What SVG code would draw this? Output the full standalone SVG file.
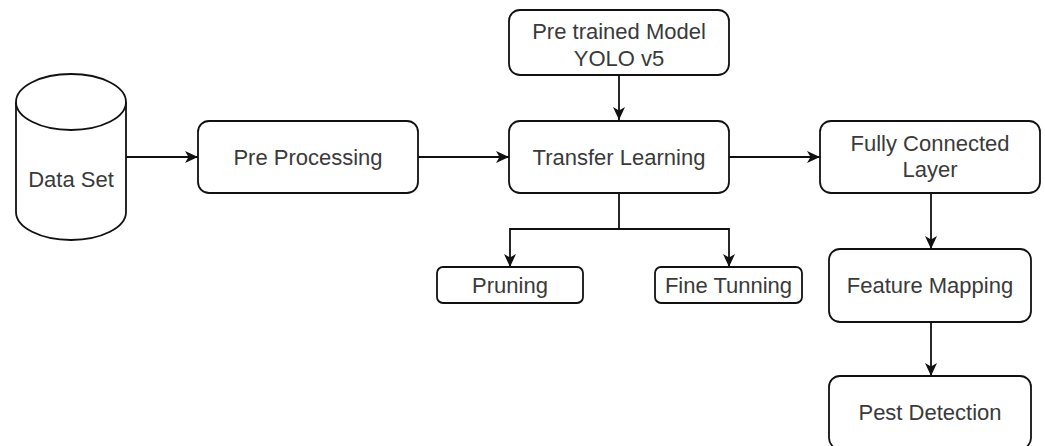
<svg xmlns="http://www.w3.org/2000/svg" width="1045" height="446" viewBox="0 0 1045 446">
<defs>
<style>
.box{fill:#fff;stroke:#111;stroke-width:1.8}
.lbl{font-family:"Liberation Sans",Arial,sans-serif;font-size:22px;fill:#3a3a3a;text-anchor:middle}
.edge{fill:none;stroke:#111;stroke-width:1.8}
</style>
<marker id="arr" markerUnits="userSpaceOnUse" markerWidth="14" markerHeight="14" viewBox="0 0 14 14" refX="13" refY="7" orient="auto">
<path d="M0,1 L13,7 L0,13 L3.5,7 Z" fill="#111"/>
</marker>
</defs>
<rect width="1045" height="446" fill="#fff"/>
<g id="connectors">
<line class="edge" x1="126" y1="157" x2="198" y2="157" marker-end="url(#arr)"/>
<line class="edge" x1="418" y1="157" x2="509" y2="157" marker-end="url(#arr)"/>
<line class="edge" x1="619" y1="75" x2="619" y2="120" marker-end="url(#arr)"/>
<line class="edge" x1="729" y1="157" x2="820" y2="157" marker-end="url(#arr)"/>
<path class="edge" d="M619,193 V229 H510 V267" marker-end="url(#arr)"/>
<path class="edge" d="M619,229 H729 V267" marker-end="url(#arr)"/>
<line class="edge" x1="931" y1="193" x2="931" y2="249" marker-end="url(#arr)"/>
<line class="edge" x1="931" y1="322" x2="931" y2="376" marker-end="url(#arr)"/>
</g>
<g id="dataset">
<path class="box" d="M16,102 A55,28 0 0 1 126,102 V212 A55,28 0 0 1 16,212 Z"/>
<path class="edge" d="M16,102 A55,28 0 0 0 126,102"/>
<text class="lbl" x="71" y="187">Data Set</text>
</g>
<g id="preprocessing">
<rect class="box" x="198" y="121" width="220" height="72" rx="11"/>
<text class="lbl" x="308" y="164.5">Pre Processing</text>
</g>
<g id="pretrained">
<rect class="box" x="509" y="10" width="220" height="65" rx="11"/>
<text class="lbl" x="619" y="39">Pre trained Model</text>
<text class="lbl" x="619" y="66">YOLO v5</text>
</g>
<g id="transfer">
<rect class="box" x="509" y="121" width="220" height="72" rx="11"/>
<text class="lbl" x="619" y="164.5">Transfer Learning</text>
</g>
<g id="pruning">
<rect class="box" x="437" y="267" width="146" height="36" rx="6"/>
<text class="lbl" x="510" y="292.5">Pruning</text>
</g>
<g id="finetuning">
<rect class="box" x="655" y="267" width="147" height="36" rx="6"/>
<text class="lbl" x="728.5" y="292.5">Fine Tunning</text>
</g>
<g id="fullyconnected">
<rect class="box" x="820" y="121" width="220" height="72" rx="11"/>
<text class="lbl" x="930" y="151">Fully Connected</text>
<text class="lbl" x="930" y="177">Layer</text>
</g>
<g id="featuremapping">
<rect class="box" x="829" y="249" width="202" height="73" rx="11"/>
<text class="lbl" x="930" y="293">Feature Mapping</text>
</g>
<g id="pestdetection">
<rect class="box" x="829" y="376" width="202" height="73" rx="11"/>
<text class="lbl" x="930" y="420">Pest Detection</text>
</g>
</svg>
